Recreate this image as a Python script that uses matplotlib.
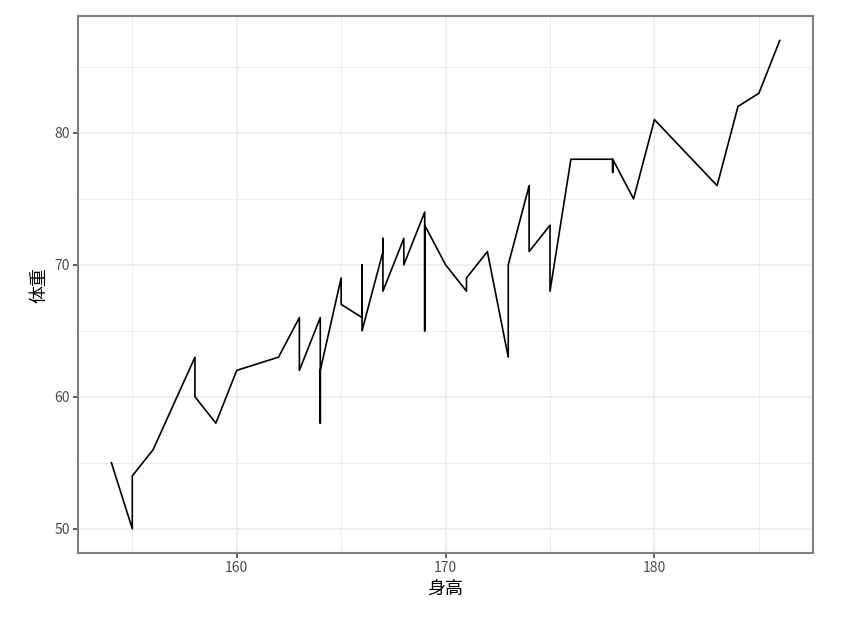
import matplotlib
matplotlib.use('Agg')
import matplotlib.pyplot as plt
from matplotlib.ticker import MultipleLocator

plt.rcParams['font.family'] = ['Noto Sans CJK SC', 'DejaVu Sans']

# 身高 / 体重 (points in drawing order, ties kept in data order)
height = [154, 155, 155, 156, 158, 158, 159, 160, 162, 163,
          163, 164, 164, 164, 165, 165, 166, 166, 166, 167,
          167, 167, 168, 168, 169, 169, 169, 170, 171, 171,
          172, 173, 173, 174, 174, 175, 175, 176, 178, 178,
          178, 179, 180, 183, 184, 185, 186]
weight = [55, 50, 54, 56, 63, 60, 58, 62, 63, 66,
          62, 66, 58, 62, 69, 67, 66, 70, 65, 71,
          72, 68, 72, 70, 74, 65, 73, 70, 68, 69,
          71, 63, 70, 76, 71, 73, 68, 78, 78, 77,
          78, 75, 81, 76, 82, 83, 87]
xticks = [160, 170, 180]
yticks = [50, 60, 70, 80]

c_grid = '#EBEBEB'
c_border = '#808080'
c_tick = '#333333'
c_text = '#4D4D4D'

fig = plt.figure(figsize=(8.46, 6.18), dpi=100)
ax = fig.add_axes([0.0922, 0.105, 0.869, 0.869])

ax.plot(height, weight, color='black', linewidth=1.2, zorder=3)

# ggplot-like 5% expansion
xr = max(height) - min(height)
yr = max(weight) - min(weight)
ax.set_xlim(min(height) - 0.05 * xr, max(height) + 0.05 * xr)
ax.set_ylim(min(weight) - 0.05 * yr, max(weight) + 0.05 * yr)

ax.set_xticks(xticks)
ax.set_yticks(yticks)
ax.xaxis.set_minor_locator(MultipleLocator(5))
ax.yaxis.set_minor_locator(MultipleLocator(5))
ax.grid(which='major', color=c_grid, linewidth=1.2, zorder=0)
ax.grid(which='minor', color=c_grid, linewidth=0.6, zorder=0)
ax.set_axisbelow(True)
ax.tick_params(which='minor', length=0)
ax.tick_params(which='major', length=3.5, width=1.1, color=c_tick,
               labelsize=10, labelcolor=c_text, pad=2.5)

for s in ax.spines.values():
    s.set_color(c_border)
    s.set_linewidth(1.5)

ax.set_xlabel('身高', fontsize=13, labelpad=3)
ax.set_ylabel('体重', fontsize=13, labelpad=4)

fig.savefig('out.png', dpi=100)
